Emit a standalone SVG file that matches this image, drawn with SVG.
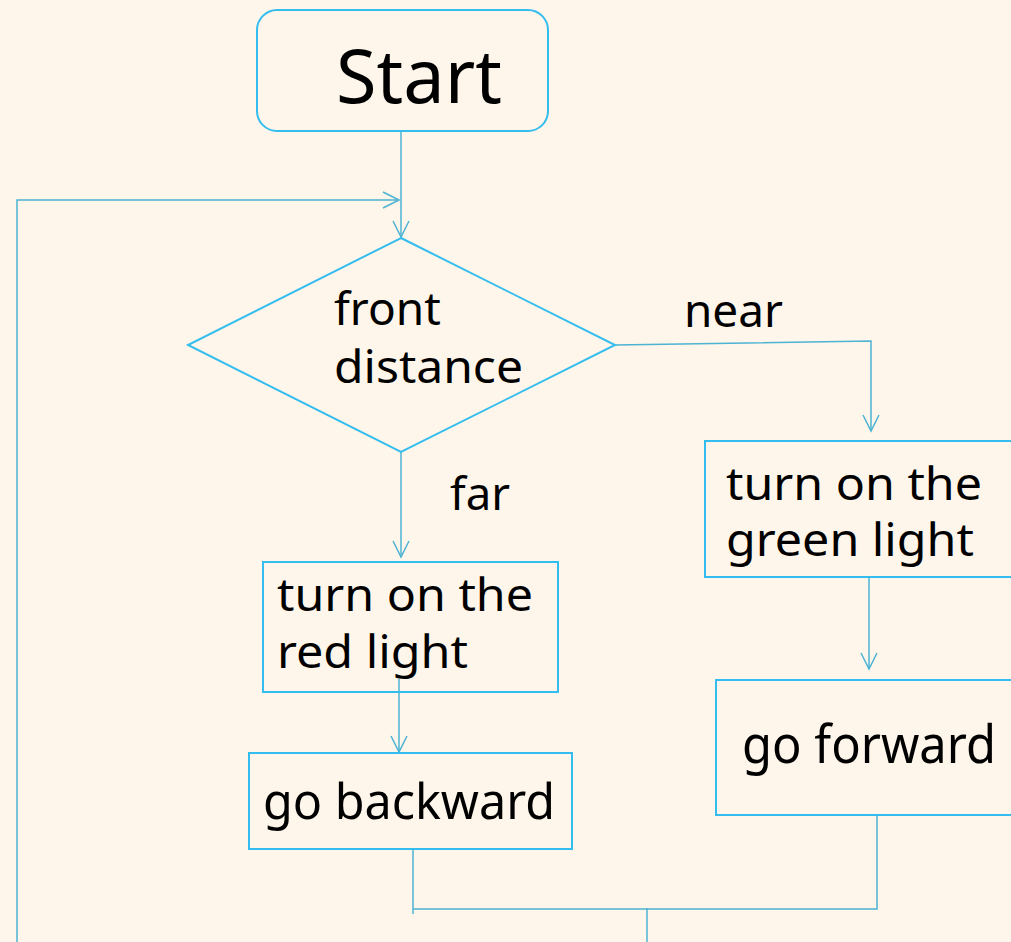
<svg xmlns="http://www.w3.org/2000/svg" width="1011" height="942" viewBox="0 0 1011 942">
<defs>
<style>
.shape{fill:none;stroke:#34BDEF;stroke-width:2}
.conn{fill:none;stroke:#4DB3D3;stroke-width:1.5}
.t{font-family:"Noto Sans","Open Sans","DejaVu Sans",sans-serif;fill:#000}
</style>
<marker id="arr" viewBox="0 0 20 20" refX="18" refY="10" markerWidth="20" markerHeight="20" markerUnits="userSpaceOnUse" orient="auto">
<path d="M2,2 L18,10 L2,18" fill="none" stroke="#4DB3D3" stroke-width="1.5"/>
</marker>
</defs>
<rect width="1011" height="942" fill="#FEF6EA"/>
<g id="connectors">
<line class="conn" x1="401" y1="131" x2="401" y2="237" marker-end="url(#arr)"/>
<polyline class="conn" points="17,942 17,200 399,200" marker-end="url(#arr)"/>
<polyline class="conn" points="615,345 871,341 871,431" marker-end="url(#arr)"/>
<line class="conn" x1="401" y1="452" x2="401" y2="557" marker-end="url(#arr)"/>
<line class="conn" x1="869" y1="577" x2="869" y2="669" marker-end="url(#arr)"/>
<line class="conn" x1="399" y1="679" x2="399" y2="752" marker-end="url(#arr)"/>
<polyline class="conn" points="413,848 413,914"/>
<polyline class="conn" points="413,909 877,909 877,815"/>
<line class="conn" x1="647" y1="908" x2="647" y2="942"/>
</g>
<g id="start">
<rect class="shape" x="257" y="10" width="291" height="121" rx="20" stroke-width="2.6"/>
<text class="t" x="336" y="103" font-size="74" textLength="166" lengthAdjust="spacingAndGlyphs">Start</text>
</g>
<g id="decision">
<polygon class="shape" points="401,238 615,345 401,452 188,345"/>
<text class="t" x="334" y="325" font-size="46">front</text>
<text class="t" x="334" y="383" font-size="46" textLength="189" lengthAdjust="spacingAndGlyphs">distance</text>
</g>
<g id="label-near">
<text class="t" x="684" y="327" font-size="46" textLength="99" lengthAdjust="spacingAndGlyphs">near</text>
</g>
<g id="label-far">
<text class="t" x="450" y="510" font-size="46" textLength="60" lengthAdjust="spacingAndGlyphs">far</text>
</g>
<g id="red-light">
<rect class="shape" x="263" y="562" width="295" height="130"/>
<text class="t" x="277" y="611" font-size="46" textLength="256" lengthAdjust="spacingAndGlyphs">turn on the</text>
<text class="t" x="277" y="668" font-size="46" textLength="191" lengthAdjust="spacingAndGlyphs">red light</text>
</g>
<g id="go-backward">
<rect class="shape" x="249" y="753" width="323" height="96"/>
<text class="t" x="263" y="819" font-size="50" textLength="292" lengthAdjust="spacingAndGlyphs">go backward</text>
</g>
<g id="green-light">
<rect class="shape" x="705" y="441" width="320" height="136"/>
<text class="t" x="726" y="500" font-size="46" textLength="256" lengthAdjust="spacingAndGlyphs">turn on the</text>
<text class="t" x="726" y="556" font-size="46" textLength="248" lengthAdjust="spacingAndGlyphs">green light</text>
</g>
<g id="go-forward">
<rect class="shape" x="716" y="680" width="310" height="135"/>
<text class="t" x="742" y="763" font-size="52" textLength="254" lengthAdjust="spacingAndGlyphs">go forward</text>
</g>
</svg>
